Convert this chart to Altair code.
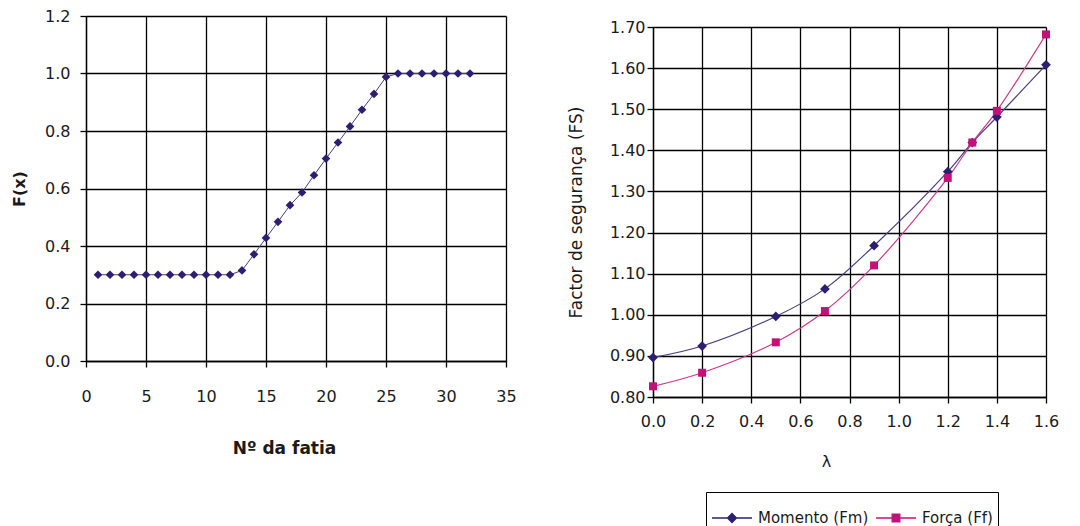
import altair as alt
import pandas as pd

# ---- data: left chart ----
fatia = [1, 2, 3, 4, 5, 6, 7, 8, 9, 10, 11, 12, 13, 14, 15, 16,
         17, 18, 19, 20, 21, 22, 23, 24, 25, 26, 27, 28, 29, 30, 31, 32]
fx = [0.30, 0.30, 0.30, 0.30, 0.30, 0.30, 0.30, 0.30, 0.30, 0.30, 0.30, 0.30,
      0.315, 0.371, 0.428, 0.484, 0.542, 0.586, 0.646, 0.704, 0.760, 0.816,
      0.874, 0.929, 0.988, 1.0, 1.0, 1.0, 1.0, 1.0, 1.0, 1.0]
left_x_ticks = [0, 5, 10, 15, 20, 25, 30, 35]
left_y_ticks = [0.0, 0.2, 0.4, 0.6, 0.8, 1.0, 1.2]

# ---- data: right chart ----
lam = [0.0, 0.2, 0.5, 0.7, 0.9, 1.2, 1.3, 1.4, 1.6]
fm = [0.896, 0.924, 0.996, 1.063, 1.168, 1.348, 1.419, 1.481, 1.608]
ff = [0.826, 0.859, 0.933, 1.009, 1.120, 1.333, 1.419, 1.496, 1.682]
series_names = ["Momento (Fm)", "Força (Ff)"]
right_x_ticks = [0.0, 0.2, 0.4, 0.6, 0.8, 1.0, 1.2, 1.4, 1.6]
right_y_ticks = [0.80, 0.90, 1.00, 1.10, 1.20, 1.30, 1.40, 1.50, 1.60, 1.70]

NAVY = "#2E1E72"
NAVY_LINE = "#463F82"
PINK = "#C2127A"
PINK_LINE = "#CC3C88"
FONT = "DejaVu Sans"
TXT = "#1a1a1a"

df_left = pd.DataFrame({"fatia": fatia, "fx": fx})
df_right = pd.DataFrame({
    "lam": lam + lam,
    "fs": fm + ff,
    "serie": [series_names[0]] * len(lam) + [series_names[1]] * len(lam),
})


def axis(values, fmt, title, bold, label_pad, title_pad, size=16, title_size=16, title_x=None):
    kw = {}
    if title_x is not None:
        kw["titleX"] = title_x
    return alt.Axis(
        values=values, format=fmt, title=title, grid=True,
        gridColor="black", gridWidth=1.3, domainColor="black", domainWidth=1.3,
        tickColor="black", tickSize=6, tickWidth=1.3,
        labelFont=FONT, labelFontSize=size, labelColor=TXT,
        labelPadding=label_pad, labelOverlap=False, labelFlush=False,
        titleFont=FONT, titleFontSize=title_size, titleColor=TXT,
        titleFontWeight="bold" if bold else "normal", titlePadding=title_pad,
        **kw,
    )


# ---- left chart ----
lx = alt.X("fatia:Q", scale=alt.Scale(domain=[0, 35], nice=False),
           axis=axis(left_x_ticks, "d", "Nº da fatia", True, 21, 36, title_size=17, title_x=198))
ly = alt.Y("fx:Q", scale=alt.Scale(domain=[0, 1.2], nice=False),
           axis=axis(left_y_ticks, ".1f", "F(x)", True, 10, 17))

left_line = alt.Chart(df_left).mark_line(color=NAVY_LINE, strokeWidth=1).encode(x=lx, y=ly)
left_pts = alt.Chart(df_left).mark_point(
    shape="diamond", filled=True, color=NAVY, size=75, opacity=1
).encode(x=lx, y=ly)
left = alt.layer(left_line, left_pts).properties(width=420, height=345)

# ---- right chart ----
rx = alt.X("lam:Q", scale=alt.Scale(domain=[0, 1.6], nice=False),
           axis=axis(right_x_ticks, ".1f", "λ", False, 10, 24, title_x=173))
ry = alt.Y("fs:Q", scale=alt.Scale(domain=[0.8, 1.7], nice=False),
           axis=axis(right_y_ticks, ".2f", "Factor de segurança (FS)", False, 2, 24,
                     title_size=17))

base_r = alt.Chart(df_right)
line_fm = base_r.transform_filter(alt.datum.serie == series_names[0]).mark_line(
    color=NAVY_LINE, strokeWidth=1.2, interpolate="catmull-rom").encode(x=rx, y=ry)
line_ff = base_r.transform_filter(alt.datum.serie == series_names[1]).mark_line(
    color=PINK_LINE, strokeWidth=1.2, interpolate="catmull-rom").encode(x=rx, y=ry)
pts_fm = base_r.transform_filter(alt.datum.serie == series_names[0]).mark_point(
    shape="diamond", filled=True, color=NAVY, size=95, opacity=1).encode(x=rx, y=ry)
pts_ff = base_r.transform_filter(alt.datum.serie == series_names[1]).mark_point(
    shape="square", filled=True, color=PINK, size=64, opacity=1).encode(x=rx, y=ry)

sym_diamond = "M-1,0H-0.2M0.2,0H1M0,-0.22L0.22,0L0,0.22L-0.22,0Z"
sym_square = "M-1,0H-0.18M0.18,0H1M-0.19,-0.19H0.19V0.19H-0.19Z"
leg = alt.Legend(
    title=None, orient="none", legendX=620, legendY=476, direction="horizontal",
    strokeColor="black", padding=5, labelFont=FONT, labelFontSize=15,
    labelColor=TXT, symbolOpacity=1, symbolStrokeWidth=1.4, symbolSize=1600,
    labelOffset=5, columnPadding=4,
)
col_scale = alt.Scale(domain=series_names, range=[NAVY, PINK])
legend_layer = base_r.mark_point(opacity=0, filled=True).encode(
    x=rx, y=ry,
    shape=alt.Shape("serie:N", scale=alt.Scale(domain=series_names, range=[sym_diamond, sym_square]), legend=leg),
    fill=alt.Fill("serie:N", scale=col_scale, legend=leg),
    stroke=alt.Stroke("serie:N", scale=col_scale, legend=leg),
)

right = alt.layer(line_fm, line_ff, pts_fm, pts_ff, legend_layer).properties(
    width=393, height=370,
)

# invisible spacer that pushes the right panel slightly lower than the left one
spacer = alt.Chart(pd.DataFrame({"a": [0]})).mark_point(opacity=0).encode(
    x=alt.value(0), y=alt.value(0)
).properties(width=1, height=1)

right_col = alt.vconcat(spacer, right, spacing=0)

chart = alt.hconcat(left, right_col, spacing=50).properties(
    padding={"left": 11, "top": 8, "right": 0, "bottom": 0}
).configure_view(stroke=None)

chart.save("out.html", embed_options={"renderer": "svg", "actions": False})
